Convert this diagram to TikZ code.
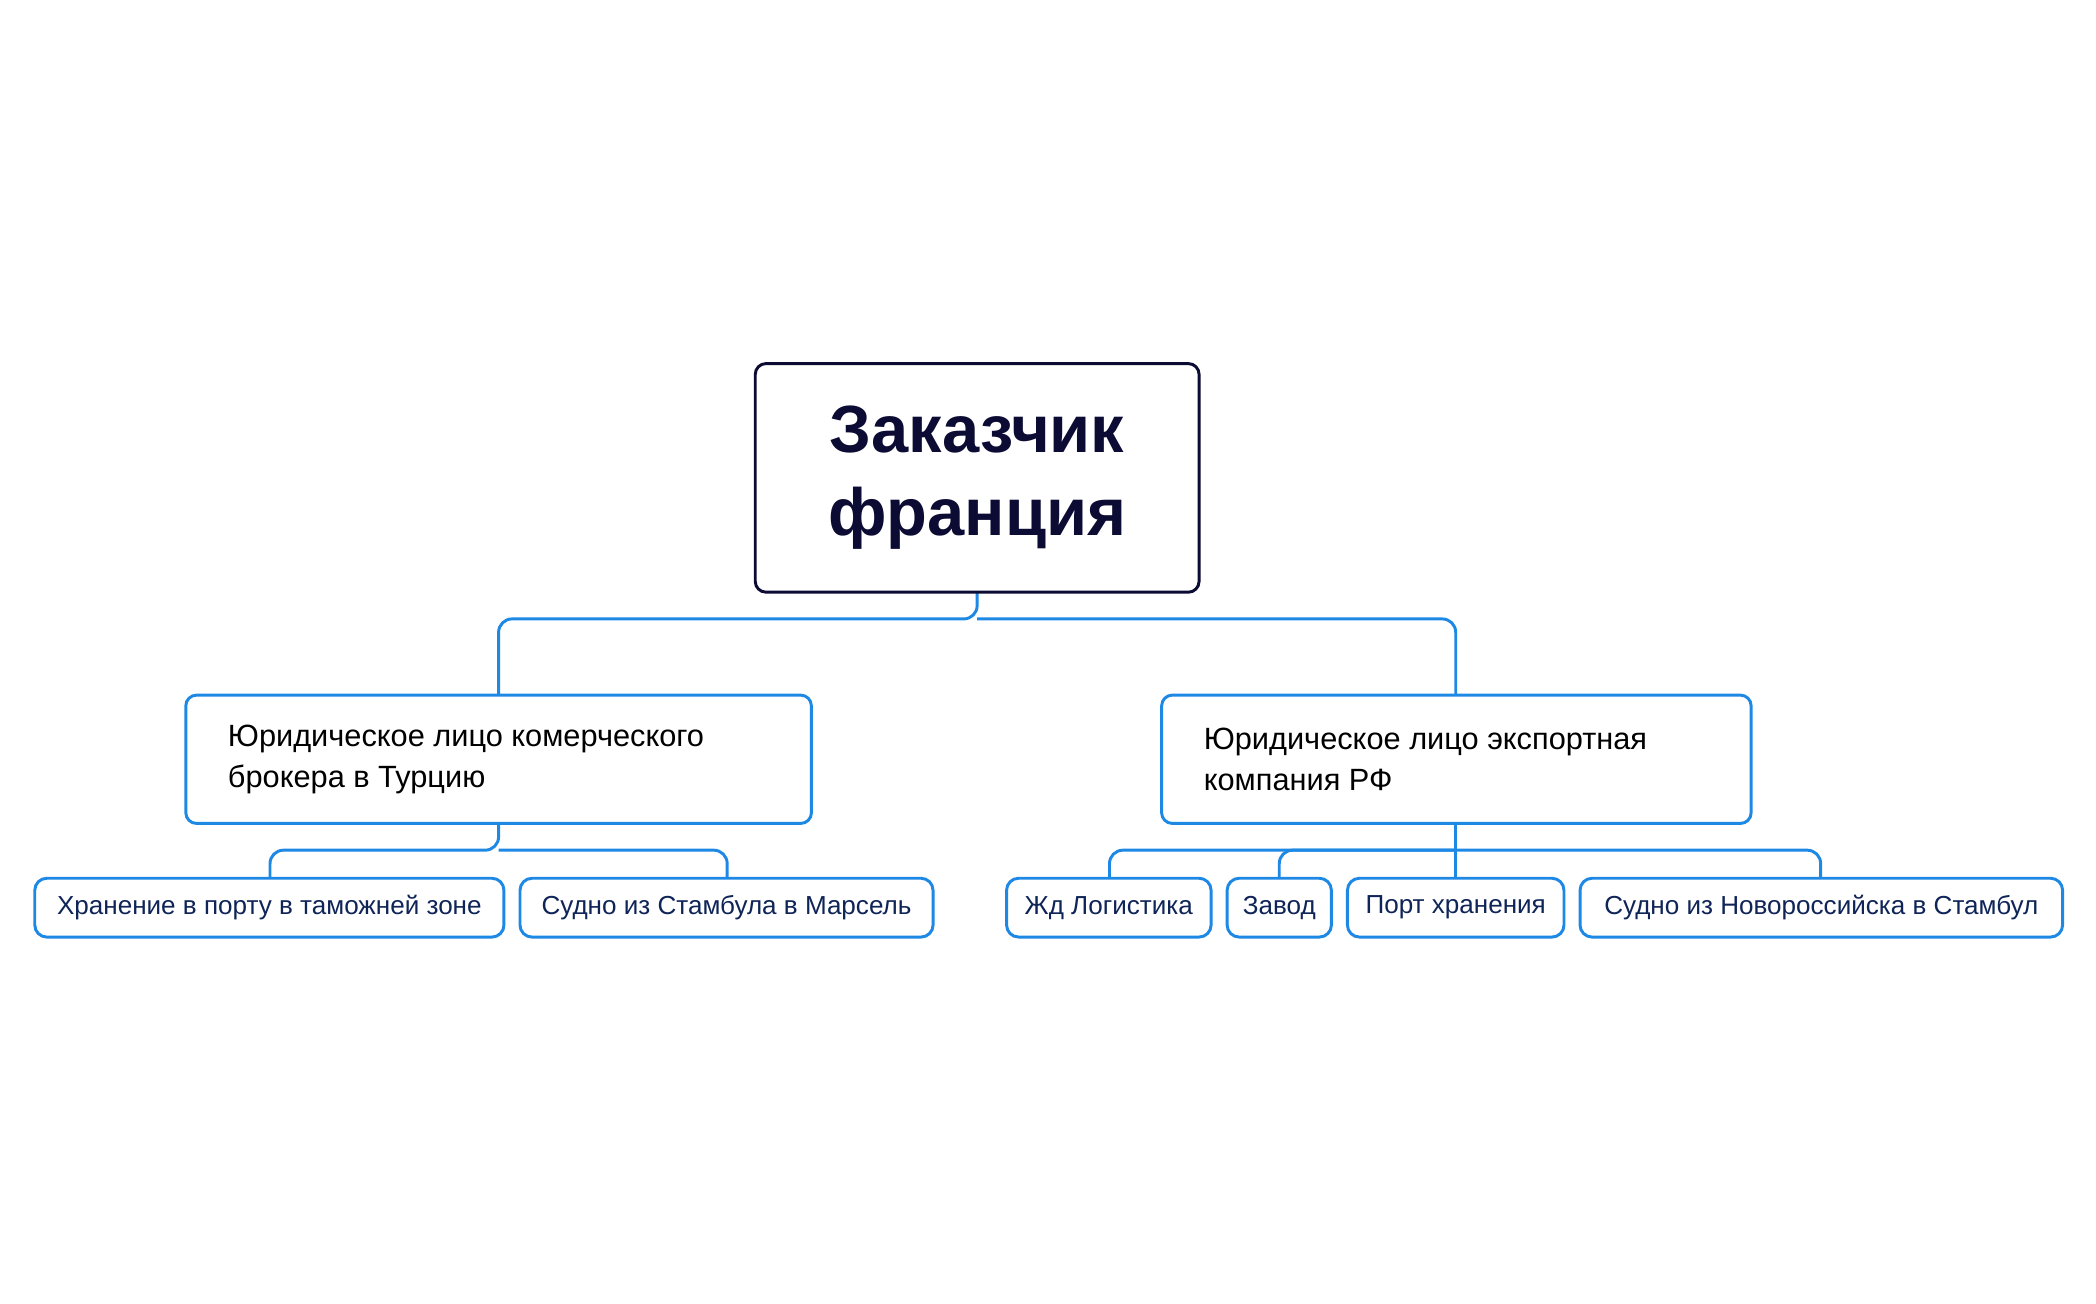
\documentclass[tikz,border=0pt]{standalone}
\usepackage{fontspec}
\setmainfont{Liberation Sans}
\definecolor{bl}{HTML}{1E88E5}
\definecolor{nv}{HTML}{0B0B33}
\begin{document}
\begin{tikzpicture}[x=1pt,y=-1pt,
 rootbox/.style={draw=nv,line width=2.2pt,rounded corners=8pt,fill=white},
 midbox/.style={draw=bl,line width=2.2pt,rounded corners=8pt,fill=white},
 leafbox/.style={draw=bl,line width=2.2pt,rounded corners=9pt,fill=white},
 conn/.style={draw=bl,line width=2.2pt,rounded corners=10pt}]
\useasboundingbox (0,0) rectangle (1568,975);
% connectors
\coordinate (rb) at (731,443);
\draw[conn] (731,443) -- (731,463) -- (373,463) -- (373,520);
\draw[conn] (731,463) -- (1089,463) -- (1089,520);
\draw[conn] (373,616) -- (373,636) -- (202,636) -- (202,657);
\draw[conn] (373,636) -- (544,636) -- (544,657);
\draw[conn] (1089,616) -- (1089,657);
\draw[conn] (1089,636) -- (830,636) -- (830,657);
\draw[conn] (1089,636) -- (1362,636) -- (1362,657);
\draw[conn] (1089,636) -- (957,636) -- (957,657);
% nodes
\draw[rootbox] (565,272) rectangle (897,443);
\node (root) at (731,357) [text=nv,font=\fontsize{50}{62}\selectfont\bfseries,align=center] {Заказчик\\франция};
\draw[midbox] (139,520) rectangle (607,616);
\node (c1) at (167,568) [anchor=west,font=\fontsize{23}{31}\selectfont,align=left] {Юридическое лицо комерческого\\брокера в Турцию};
\draw[midbox] (869,520) rectangle (1310,616);
\node (c2) at (897,568) [anchor=west,font=\fontsize{23}{31}\selectfont,align=left] {Юридическое лицо экспортная\\компания РФ};
\foreach \n/\a/\b/\t in {l1/26/377/Хранение в порту в таможней зоне, l2/389/698/Судно из Стамбула в Марсель, l3/753/906/Жд Логистика, l4/918/996/Завод, l5/1008/1170/Порт хранения, l6/1182/1543/Судно из Новороссийска в Стамбул}{
 \draw[leafbox] (\a,657) rectangle (\b,701);
 \node (\n) at ({(\a+\b)/2},679) [text=nv!80!bl,font=\fontsize{19.5}{24}\selectfont] {\t};
}
\end{tikzpicture}
\end{document}
